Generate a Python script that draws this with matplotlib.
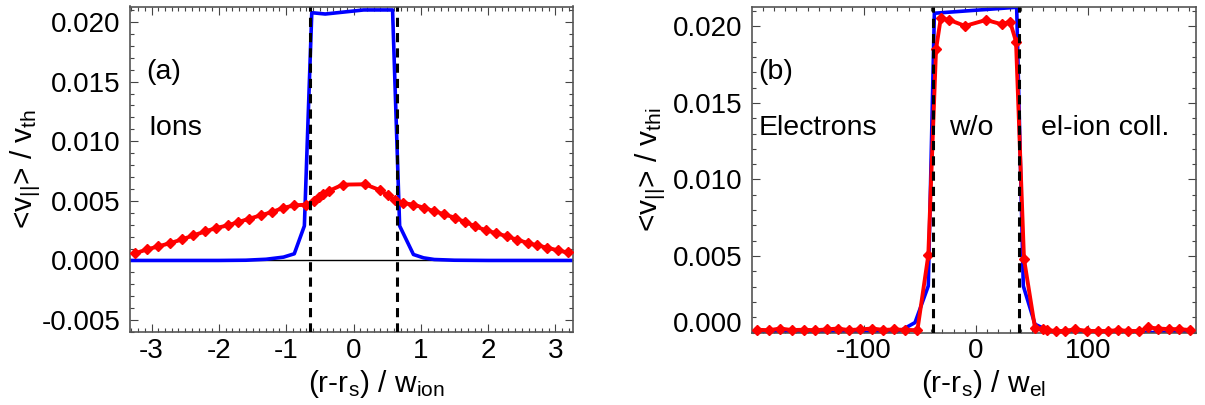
import matplotlib
matplotlib.use("Agg")
import matplotlib.pyplot as plt
from matplotlib.ticker import MultipleLocator, FormatStrFormatter

plt.rcParams['font.family'] = ['Liberation Sans', 'DejaVu Sans']
plt.rcParams['mathtext.fontset'] = 'custom'
plt.rcParams['mathtext.rm'] = 'Liberation Sans'
plt.rcParams['mathtext.it'] = 'Liberation Sans'
plt.rcParams['mathtext.default'] = 'regular'
plt.rcParams['axes.unicode_minus'] = False

FS_TICK = 20
FS_TEXT = 20.5
FS_LABEL = 21.5

# (a) ions: blue = reference profile, red = with collisions
ion_x_blue = [-3.32, -2.0, -1.6, -1.3, -1.04, -0.88, -0.73, -0.62, -0.42, 0.15,
              0.58, 0.685, 0.89, 1.04, 1.2, 1.5, 2.0, 3.26]
ion_y_blue = [0.0, 0.0, 0.00002, 0.0001, 0.00028, 0.00056, 0.0029, 0.02078, 0.02067,
              0.02101, 0.02101, 0.0029, 0.0005, 0.00022, 0.00008, 0.00002, 0.0, 0.0]

ion_x_red = [-3.24, -3.07, -2.90, -2.72, -2.55, -2.38, -2.20, -2.04, -1.87, -1.71,
             -1.55, -1.38, -1.21, -1.05, -0.88, -0.71, -0.59, -0.52, -0.455, -0.37,
             -0.16, 0.17, 0.40, 0.505, 0.62, 0.73, 0.89, 1.04, 1.19, 1.35,
             1.50, 1.66, 1.81, 1.97, 2.12, 2.28, 2.43, 2.59, 2.73, 2.88,
             3.04, 3.18]
ion_y_red = [0.00061, 0.00092, 0.00118, 0.00146, 0.00176, 0.0021, 0.00244, 0.00272, 0.00294, 0.00322,
             0.0035, 0.00378, 0.00406, 0.0044, 0.00462, 0.00468, 0.00498, 0.00532, 0.0056, 0.00582,
             0.00636, 0.00639, 0.00588, 0.00546, 0.00504, 0.00482, 0.00468, 0.00443, 0.00414, 0.00387,
             0.00359, 0.00322, 0.00286, 0.00252, 0.00229, 0.00202, 0.00174, 0.00146, 0.00126, 0.00107,
             0.00084, 0.00067]

ion_island = 0.64

# (b) electrons
el_x_blue = [-199, -100, -80, -67.7, -54.3, -42.5, -37.1, 36.2, 42.1, 52.5, 65, 80, 100, 196]
el_y_blue = [0.0, 0.0, 0.00002, 0.0001, 0.00065, 0.00304, 0.02086, 0.02125, 0.00304,
             0.00054, 0.0001, 0.00002, 0.0, 0.0]

el_x_red = [-195.3, -184, -174.4, -164, -153.6, -143.2, -132.8, -123.3, -113.5, -103.1,
            -92.7, -82.4, -72.8, -63.0, -52.2, -42.5, -35.6, -31.4, -23.8, -9.8,
            8.9, 22.9, 30.3, 35.6, 42.7, 52.5, 59.9, 63.5, 71.0, 79.3,
            88.2, 98.6, 108.9, 117.8, 126.7, 135.6, 145.4, 153.4, 162.3, 172.1,
            181.0, 190.6]
el_y_red = [0.00018, 0.00015, 0.00026, 0.00016, 0.00018, 0.00015, 0.0002, 0.00026, 0.00016, 0.0002,
            0.00026, 0.00017, 0.0002, 0.00017, 0.00015, 0.00504, 0.01851, 0.02053, 0.02042, 0.02003,
            0.02042, 0.02014, 0.02031, 0.01901, 0.00482, 0.0003, 0.00022, 0.00015, 0.0001, 0.0001,
            0.00022, 0.0001, 0.0001, 0.0001, 0.00016, 0.0001, 0.0001, 0.00033, 0.00026, 0.00022,
            0.00022, 0.00016]

el_island = 38.5


def style_axes(ax):
    for s in ax.spines.values():
        s.set_color('#555555')
        s.set_linewidth(1.2)
    ax.tick_params(which='both', direction='in', top=True, right=True,
                   colors='#444444', labelcolor='black', labelsize=FS_TICK, width=0.8)
    ax.tick_params(which='major', length=6)
    ax.tick_params(which='minor', length=3)
    ax.tick_params(axis='y', pad=7)
    ax.tick_params(axis='x', pad=4)
    ax.yaxis.set_major_formatter(FormatStrFormatter('%.3f'))
    ax.yaxis.set_minor_locator(MultipleLocator(0.001))


def red_curve(ax, x, y, **kw):
    ax.plot(x, y, color='#ff0000', lw=2.8, marker='D', ms=5.6, mew=1,
            mec='#ff0000', mfc='#ff0000', zorder=3, **kw)


fig = plt.figure(figsize=(12.05, 4.05), dpi=100)
ax1 = fig.add_axes([130 / 1205, 73 / 405, 443 / 1205, 325.5 / 405])
ax2 = fig.add_axes([752.3 / 1205, 72.5 / 405, 443.4 / 1205, 326 / 405])

# ---- panel (a)
ax1.axhline(0, color='black', lw=1, zorder=1)
ax1.plot(ion_x_blue, ion_y_blue, color='#0000ff', lw=2.6, zorder=2)
red_curve(ax1, ion_x_red, ion_y_red)
for xv in (-ion_island, ion_island):
    ax1.axvline(xv, color='black', lw=2.2, ls=(0, (3, 2)), zorder=4)
ax1.set_xlim(-3.32, 3.26)
ax1.set_ylim(-0.006, 0.0213)
ax1.set_yticks([-0.005, 0.0, 0.005, 0.010, 0.015, 0.020])
ax1.set_xticks([-3, -2, -1, 0, 1, 2, 3])
ax1.xaxis.set_minor_locator(MultipleLocator(0.1))
style_axes(ax1)
ax1.set_xlabel(r'(r-r$_s$) / w$_{ion}$', fontsize=FS_LABEL)
ax1.xaxis.set_label_coords(0.555, -0.11)
ax1.set_ylabel(r'<v$_{||}$> / v$_{th}$', fontsize=FS_LABEL)
ax1.yaxis.set_label_coords(-0.197, 0.5)
ax1.text(0.037, 0.80, '(a)', transform=ax1.transAxes, fontsize=FS_TEXT, va='center')
ax1.text(0.041, 0.627, 'Ions', transform=ax1.transAxes, fontsize=FS_TEXT, va='center')

# ---- panel (b)
ax2.plot(el_x_blue, el_y_blue, color='#0000ff', lw=2.6, zorder=2)
red_curve(ax2, el_x_red, el_y_red, clip_on=False)
for xv in (-el_island, el_island):
    ax2.axvline(xv, color='black', lw=2.2, ls=(0, (3, 2)), zorder=4)
ax2.set_xlim(-199.2, 195.6)
ax2.set_ylim(0.0, 0.0213)
ax2.set_yticks([0.0, 0.005, 0.010, 0.015, 0.020])
ax2.set_xticks([-100, 0, 100])
ax2.xaxis.set_minor_locator(MultipleLocator(10))
style_axes(ax2)
ax2.yaxis.get_major_ticks()[0].label1.set_verticalalignment('baseline')
ax2.set_xlabel(r'(r-r$_s$) / w$_{el}$', fontsize=FS_LABEL)
ax2.xaxis.set_label_coords(0.521, -0.11)
ax2.set_ylabel(r'<v$_{||}$> / v$_{thi}$', fontsize=FS_LABEL)
ax2.yaxis.set_label_coords(-0.19, 0.5)
ax2.text(0.013, 0.80, '(b)', transform=ax2.transAxes, fontsize=FS_TEXT, va='center')
ax2.text(0.015, 0.627, 'Electrons', transform=ax2.transAxes, fontsize=FS_TEXT, va='center')
ax2.text(0.495, 0.627, 'w/o', transform=ax2.transAxes, fontsize=FS_TEXT, va='center', ha='center')
ax2.text(0.65, 0.627, 'el-ion coll.', transform=ax2.transAxes, fontsize=FS_TEXT, va='center')

fig.savefig('out.png', dpi=100)
